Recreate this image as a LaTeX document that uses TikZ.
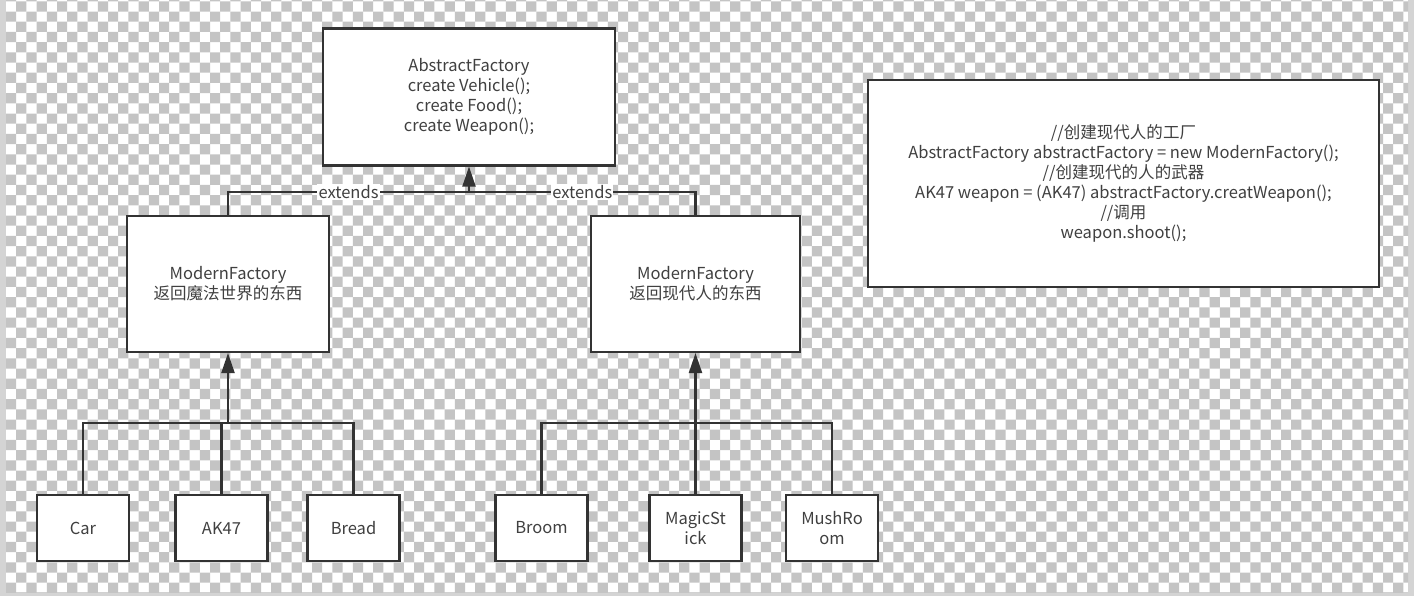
\documentclass[tikz,border=0pt]{standalone}
\usepackage{fontspec}
\setmainfont{Noto Sans CJK SC}
\usepackage{tikz}
\usetikzlibrary{arrows.meta, positioning, calc}
\definecolor{linegray}{HTML}{333333}
\definecolor{textgray}{HTML}{404040}
\definecolor{checkgray}{HTML}{C4C4C4}
\definecolor{shadowgray}{HTML}{D4D4D4}

\begin{document}
\begin{tikzpicture}[x=0.02cm, y=-0.02cm,
		box/.style={draw=linegray, line width=1.2pt, fill=white, align=center, text=textgray,
			font=\fontsize{9.4}{11.4}\selectfont, inner sep=0pt},
		leaf/.style={box, minimum width=1.84cm, minimum height=1.32cm},
		factory/.style={box, minimum width=4.04cm, minimum height=2.72cm},
		ext/.style={fill=white, text=textgray, font=\fontsize{9.4}{11.4}\selectfont, inner sep=0.6pt},
		link/.style={draw=linegray, line width=1.2pt},
		inherit/.style={link, -{Triangle[length=0.4cm, width=0.26cm]}}]
	\useasboundingbox (0,0) rectangle (1414,596);
	% transparent canvas
	\fill[shadowgray] (0,0) rectangle (1414,596);
	\fill[white] (6,0) rectangle (1408,592);
	\begin{scope}
		\clip (6,0) rectangle (1408,592);
		\fill[checkgray] \foreach \i in {1,3,...,137} {\foreach \j in {0,2,...,58} {(6+\i*10.2,1.3+\j*10.2) rectangle ++(10.2,10.2)}};
		\fill[checkgray] \foreach \i in {0,2,...,136} {\foreach \j in {-1,1,...,57} {(6+\i*10.2,1.3+\j*10.2) rectangle ++(10.2,10.2)}};
	\end{scope}

	\node[box, minimum width=5.84cm, minimum height=2.74cm] (abs) at (469,97)
		{AbstractFactory\\create Vehicle();\\create Food();\\create Weapon();};
	\node[factory] (magic) at (228,284) {ModernFactory\\返回魔法世界的东西};
	\node[factory, minimum width=4.18cm] (modern) at (695.5,284) {ModernFactory\\返回现代人的东西};

	\node[leaf] (car) at (83,528) {Car};
	\node[leaf] (ak) at (221.5,528) {AK47};
	\node[leaf] (bread) at (353.5,528) {Bread};
	\node[leaf] (broom) at (541.5,528) {Broom};
	\node[leaf] (stick) at (695.5,528) {MagicSt\\ick};
	\node[leaf] (mush) at (832,528) {MushRo\\om};

	\node[box, minimum width=10.22cm, minimum height=4.14cm] (note) at (1123.5,183.5)
		{//创建现代人的工厂\\AbstractFactory abstractFactory = new ModernFactory();\\//创建现代的人的武器\\
		AK47 weapon = (AK47) abstractFactory.creatWeapon();\\//调用\\weapon.shoot();};

	\coordinate (top) at (469,192);
	\coordinate (magicbus) at (228,423);
	\coordinate (modernbus) at (695.5,423);

	\draw[link] (magic.north) |- node[ext, pos=0.75] {extends} (top);
	\draw[link] (modern.north) |- node[ext, pos=0.75] {extends} (top);
	\draw[inherit] (top) -- (abs.south);

	\foreach \kid in {car, ak, bread} \draw[link] (\kid.north) |- (magicbus);
	\draw[inherit] (magicbus) -- (magic.south);
	\foreach \kid in {broom, stick, mush} \draw[link] (\kid.north) |- (modernbus);
	\draw[inherit] (modernbus) -- (modern.south);
\end{tikzpicture}
\end{document}
